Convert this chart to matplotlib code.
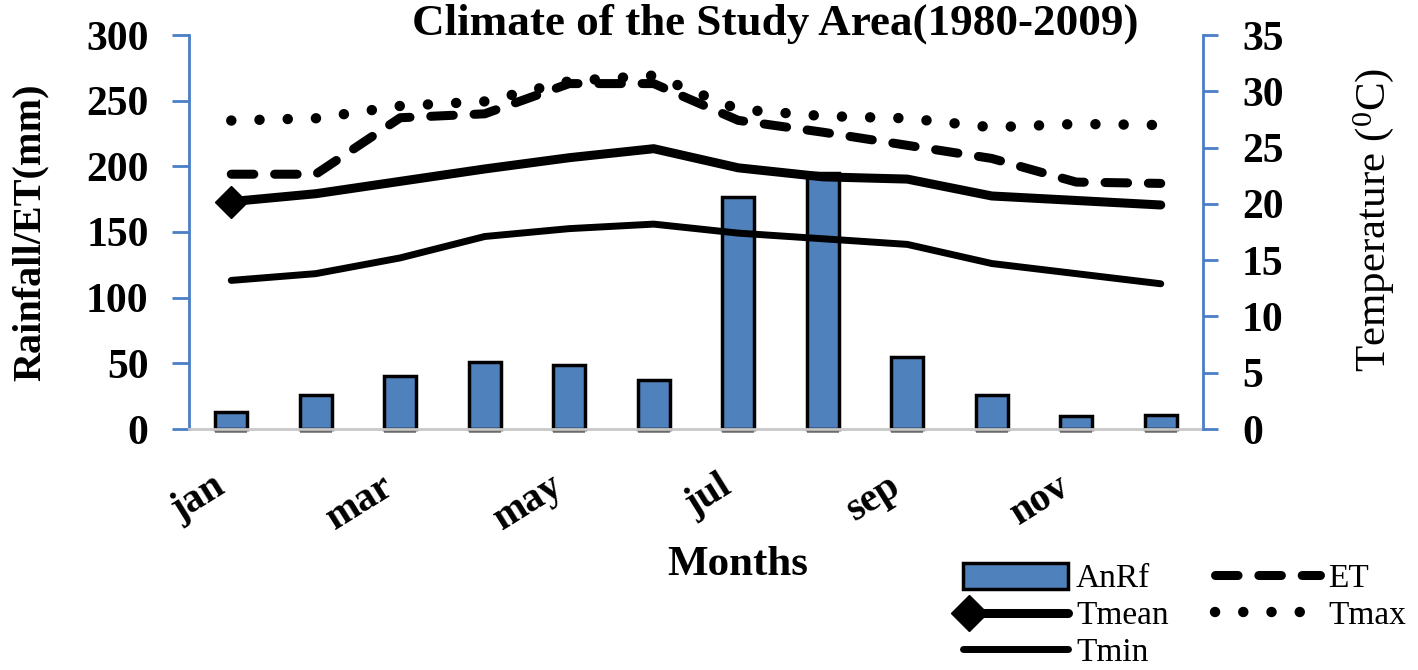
import matplotlib
matplotlib.use('Agg')
import matplotlib.pyplot as plt
from matplotlib import patheffects as pe
from matplotlib.lines import Line2D
from matplotlib.patches import Patch
from matplotlib.legend_handler import HandlerBase

plt.rcParams['font.family'] = ['Liberation Serif', 'DejaVu Serif']
plt.rcParams['mathtext.fontset'] = 'custom'
plt.rcParams['mathtext.rm'] = 'Liberation Serif'

months = ['jan', 'feb', 'mar', 'apr', 'may', 'jun', 'jul', 'aug', 'sep', 'oct', 'nov', 'dec']
rainfall = [13, 26, 40, 51, 49, 37, 177, 195, 55, 26, 10, 11]
et = [194, 194, 237, 240, 263, 263, 235, 226, 216, 206, 188, 187]
tmean = [20.2, 20.9, 22.0, 23.1, 24.1, 24.9, 23.2, 22.4, 22.2, 20.7, 20.3, 19.9]
tmin = [13.2, 13.8, 15.2, 17.1, 17.8, 18.2, 17.4, 16.9, 16.4, 14.7, 13.8, 12.9]
tmax = [27.4, 27.6, 28.7, 29.1, 30.9, 31.4, 28.4, 27.8, 27.6, 26.8, 27.1, 27.0]

BLUE = '#4F81BD'
SPINE = '#4A7EC6'


class HandlerMarkLeft(HandlerBase):
    """Legend handle: thick line with a single diamond at its left end."""
    def create_artists(self, legend, orig_handle, xdescent, ydescent, width, height,
                       fontsize, trans):
        y = height / 2 - ydescent
        x0 = -xdescent
        line = Line2D([x0 + 4, x0 + width], [y, y], color=orig_handle.get_color(),
                      linewidth=orig_handle.get_linewidth(), solid_capstyle='round',
                      transform=trans)
        mark = Line2D([x0 + 4], [y], marker=orig_handle.get_marker(),
                      markersize=orig_handle.get_markersize() + 2,
                      color=orig_handle.get_color(), linestyle='none', transform=trans)
        return [line, mark]


fig = plt.figure(figsize=(14.18, 6.70), dpi=100)
ax = fig.add_axes([189/1418, 1-429/670, (1203-189)/1418, (429-35)/670])
ax2 = ax.twinx()

x = list(range(len(months)))
bars = ax.bar(x, rainfall, width=0.38, color=BLUE, edgecolor='black', linewidth=2.5,
              zorder=2, clip_on=False)
for b in bars:
    b.set_path_effects([pe.SimplePatchShadow(offset=(0, -3), shadow_rgbFace='#707070', alpha=0.8),
                        pe.Normal()])

et_line, = ax.plot(x, et, color='black', linewidth=6.5, linestyle=(0, (2.5, 2.3)),
                   dash_capstyle='round', zorder=3)

tmean_line, = ax2.plot(x, tmean, color='black', linewidth=6.5, marker='D', markersize=16,
                       markevery=[0], solid_capstyle='round', solid_joinstyle='round', zorder=3)
tmin_line, = ax2.plot(x, tmin, color='black', linewidth=5, solid_capstyle='round',
                      solid_joinstyle='round', zorder=3)
tmax_line, = ax2.plot(x, tmax, color='black', linewidth=7.5, linestyle=(0, (0.01, 2.7)),
                      dash_capstyle='round', zorder=3)

ax.set_xlim(-0.5, 11.5)
ax.set_ylim(0, 300)
ax2.set_ylim(0, 35)
ax.set_yticks(range(0, 301, 50))
ax2.set_yticks(range(0, 36, 5))

for s in ['top', 'right']:
    ax.spines[s].set_visible(False)
for s in ['top', 'left', 'bottom']:
    ax2.spines[s].set_visible(False)
ax.spines['left'].set_color(SPINE)
ax.spines['left'].set_linewidth(2)
ax2.spines['right'].set_color(SPINE)
ax2.spines['right'].set_linewidth(2)
ax.spines['bottom'].set_color('#C8C8C8')
ax.spines['bottom'].set_linewidth(2)

ax.tick_params(axis='y', direction='out', length=12, width=2, color=SPINE, pad=17,
               labelsize=30)
ax2.tick_params(axis='y', direction='out', length=11, width=2, color=SPINE, pad=17,
                labelsize=30)
for lab in ax.get_yticklabels() + ax2.get_yticklabels():
    lab.set_fontweight('bold')

ax.set_xticks(x[::2])
ax.set_xticklabels(months[::2], rotation=32, ha='right', va='top',
                   fontsize=29, fontweight='bold')
ax.tick_params(axis='x', length=0, pad=28)

fig.text(30/1418, 1-232/670, 'Rainfall/ET(mm)', rotation=90, ha='center', va='center',
         fontsize=29, fontweight='bold')
fig.text(1374/1418, 1-220/670, r'Temperature ($\mathregular{^0}$C)', rotation=90,
         ha='center', va='center', fontsize=31)
fig.text(738/1418, 1-565/670, 'Months', ha='center', va='center', fontsize=31,
         fontweight='bold')
fig.text(775/1418, 1-35/670, 'Climate of the Study Area(1980-2009)', ha='center',
         va='baseline', fontsize=32.5, fontweight='bold')

anrf_handle = Patch(facecolor=BLUE, edgecolor='black', linewidth=2.5)
leg = fig.legend([anrf_handle, tmean_line, tmin_line, et_line, tmax_line],
                 ['AnRf', 'Tmean', 'Tmin', 'ET', 'Tmax'],
                 ncol=2, loc='upper left', bbox_to_anchor=(963/1418, 1-563/670),
                 frameon=False, fontsize=24, handlelength=3.15, handleheight=0.8,
                 handletextpad=0.24, columnspacing=1.4, labelspacing=0.17,
                 borderpad=0, borderaxespad=0,
                 handler_map={tmean_line: HandlerMarkLeft()})

fig.savefig('out.png', dpi=100)
